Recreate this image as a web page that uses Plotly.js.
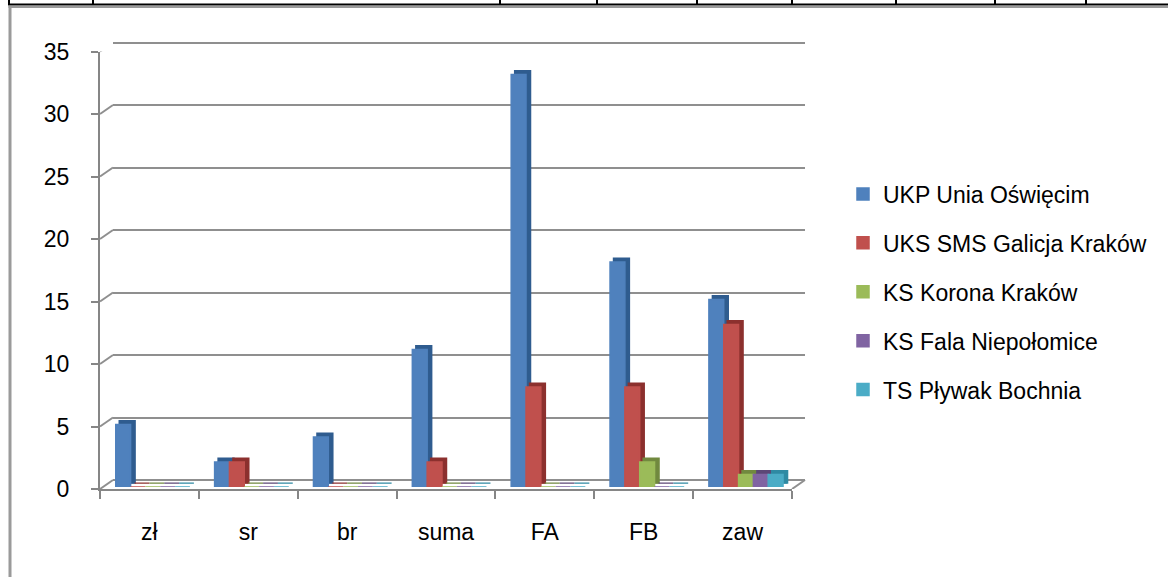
<!DOCTYPE html>
<html>
<head>
<meta charset="utf-8">
<script src="https://cdn.plot.ly/plotly-3.0.1.min.js"></script>
<style>
html,body{margin:0;padding:0;background:#fff;}
#chart{width:1168px;height:577px;}
</style>
</head>
<body>
<div id="chart"></div>
<script>
// ---- data ----
const categories = ['zł', 'sr', 'br', 'suma', 'FA', 'FB', 'zaw'];
const seriesNames = ['UKP Unia Oświęcim', 'UKS SMS Galicja Kraków', 'KS Korona Kraków', 'KS Fala Niepołomice', 'TS Pływak Bochnia'];
const unia    = [5, 2, 4, 11, 33, 18, 15];
const galicja = [0, 2, 0, 2, 8, 8, 13];
const korona  = [0, 0, 0, 0, 0, 2, 1];
const fala    = [0, 0, 0, 0, 0, 0, 1];
const plywak  = [0, 0, 0, 0, 0, 0, 1];
const yTickVals = [0, 5, 10, 15, 20, 25, 30, 35];
const yTickText = ['0', '5', '10', '15', '20', '25', '30', '35'];

// ---- styling ----
const seriesValues = [unia, galicja, korona, fala, plywak];
const frontColors = ['#4F81BD', '#C0504D', '#9BBB59', '#8064A2', '#4BACC6'];
const sideColors  = ['#2F5C8F', '#8C302E', '#71893F', '#5C4776', '#2F8AA3'];
const W = 1168, H = 577;
const FONT = 'Liberation Sans, Arial, sans-serif';
const px = x => x / W;
const py = y => 1 - y / H;
const GRID = '#8f8f8f';
const AXIS = '#868686';

// geometry (pixels): front axis frame, back wall, bar faces
const front = {x0: 100, x1: 792, y0: 489, y1: 51.5};
const back  = {x0: 113, x1: 805, y0: 480, y1: 42.5};
const bars  = {x0: 103.4, x1: 795.4, y0: 487, y1: 49.5};
const side  = {x0: 107.4, x1: 799.4, y0: 483.8, y1: 46.3};
const yRange = [0, 35];
// back wall range padded so the edge gridlines (0 and 35) are drawn
const pad = 0.5;
const pxPerUnit = (back.y0 - back.y1) / (yRange[1] - yRange[0]);

const traces = [];
// side/top faces (drawn first, below)
seriesValues.forEach((vals, i) => {
  traces.push({
    type: 'bar', x: categories, y: vals, name: seriesNames[i],
    xaxis: 'x2', yaxis: 'y2', showlegend: false, hoverinfo: 'skip',
    marker: {color: sideColors[i], line: {color: sideColors[i], width: 2.5}}
  });
});
// front faces
seriesValues.forEach((vals, i) => {
  traces.push({
    type: 'bar', x: categories, y: vals, name: seriesNames[i],
    xaxis: 'x3', yaxis: 'y3', legendgroup: 'g' + i, hoverinfo: 'skip',
    marker: {color: frontColors[i], line: {color: frontColors[i], width: 1.5}}
  });
});
// invisible trace to carry the front category axis
traces.push({
  type: 'bar', x: categories, y: unia, xaxis: 'x4', yaxis: 'y4',
  showlegend: false, hoverinfo: 'skip', opacity: 0
});
// invisible trace on back wall to build its axes
traces.push({
  type: 'bar', x: categories, y: unia, xaxis: 'x', yaxis: 'y',
  showlegend: false, hoverinfo: 'skip', opacity: 0
});

const hidden = {showgrid: false, zeroline: false, showline: false, ticks: '', showticklabels: false, fixedrange: true};

const shapes = [];
// left wall diagonals from front axis ticks to back wall
yTickVals.forEach(v => {
  shapes.push({
    type: 'line', xref: 'paper', yref: 'y4',
    xsizemode: 'pixel', xanchor: px(front.x0), x0: 0, x1: back.x0 - front.x0,
    ysizemode: 'pixel', yanchor: v, y0: 0, y1: front.y0 - back.y0,
    line: {color: GRID, width: 2}, layer: 'below'
  });
});
// floor right edge
shapes.push({
  type: 'line', xref: 'paper', yref: 'y4',
  xsizemode: 'pixel', xanchor: px(front.x1), x0: 0, x1: back.x0 - front.x0,
  ysizemode: 'pixel', yanchor: yRange[0], y0: 0, y1: front.y0 - back.y0,
  line: {color: GRID, width: 2}, layer: 'below'
});
// document table lines above chart
shapes.push({type: 'line', xref: 'paper', yref: 'paper', x0: px(8), x1: 1, y0: py(4.5), y1: py(4.5), line: {color: '#000', width: 2}});
[9, 93, 500, 597, 697, 792, 896, 995, 1086].forEach(x => {
  shapes.push({type: 'line', xref: 'paper', yref: 'paper', x0: px(x), x1: px(x), y0: 1, y1: py(4.5), line: {color: '#000', width: 2}});
});
// chart border
shapes.push({type: 'line', xref: 'paper', yref: 'paper', x0: px(10), x1: px(10), y0: py(6), y1: 0, line: {color: '#9a9a9a', width: 3}});
shapes.push({type: 'line', xref: 'paper', yref: 'paper', x0: px(8.5), x1: 1, y0: py(7), y1: py(7), line: {color: '#9a9a9a', width: 2}});

const layout = {
  width: W, height: H,
  margin: {l: 0, r: 0, t: 0, b: 0, pad: 0},
  paper_bgcolor: '#ffffff', plot_bgcolor: 'rgba(0,0,0,0)',
  font: {family: FONT, size: 23, color: '#000'},
  barmode: 'group', bargap: 0.25, bargroupgap: 0,
  showlegend: true,
  legend: {
    x: px(843), xanchor: 'left', y: py(292), yanchor: 'middle',
    font: {family: FONT, size: 23, color: '#000'},
    tracegroupgap: 16, bgcolor: 'rgba(0,0,0,0)', borderwidth: 0,
    traceorder: 'grouped'
  },
  // back wall
  xaxis: Object.assign({}, hidden, {domain: [px(back.x0), px(back.x1)], anchor: 'y', type: 'category'}),
  yaxis: Object.assign({}, hidden, {
    domain: [py(back.y0 + pad * pxPerUnit), py(back.y1 - pad * pxPerUnit)], anchor: 'x',
    range: [yRange[0] - pad, yRange[1] + pad],
    showgrid: true, gridcolor: GRID, gridwidth: 2, tickvals: yTickVals}),
  // side faces
  xaxis2: Object.assign({}, hidden, {domain: [px(side.x0), px(side.x1)], anchor: 'y2', type: 'category'}),
  yaxis2: Object.assign({}, hidden, {domain: [py(side.y0), py(side.y1)], anchor: 'x2', range: yRange}),
  // front faces
  xaxis3: Object.assign({}, hidden, {domain: [px(bars.x0), px(bars.x1)], anchor: 'y3', type: 'category'}),
  yaxis3: Object.assign({}, hidden, {domain: [py(bars.y0), py(bars.y1)], anchor: 'x3', range: yRange}),
  // front axes
  xaxis4: {
    domain: [px(front.x0), px(front.x1)], anchor: 'y4', type: 'category',
    showgrid: false, zeroline: false, showline: true, linecolor: AXIS, linewidth: 2,
    ticks: 'outside', tickson: 'boundaries', ticklen: 8, tickwidth: 2, tickcolor: AXIS,
    tickfont: {family: FONT, size: 23, color: '#000'}, ticklabelstandoff: 21, fixedrange: true
  },
  yaxis4: {
    domain: [py(front.y0), py(front.y1)], anchor: 'x4', range: yRange,
    tickvals: yTickVals, ticktext: yTickText,
    showgrid: false, zeroline: false, showline: true, linecolor: AXIS, linewidth: 2,
    ticks: 'outside', ticklen: 7, tickwidth: 2, tickcolor: AXIS,
    tickfont: {family: FONT, size: 23, color: '#000'}, ticklabelstandoff: 17, fixedrange: true
  },
  shapes: shapes
};

Plotly.newPlot('chart', traces, layout, {displayModeBar: false, staticPlot: true});
</script>
</body>
</html>
